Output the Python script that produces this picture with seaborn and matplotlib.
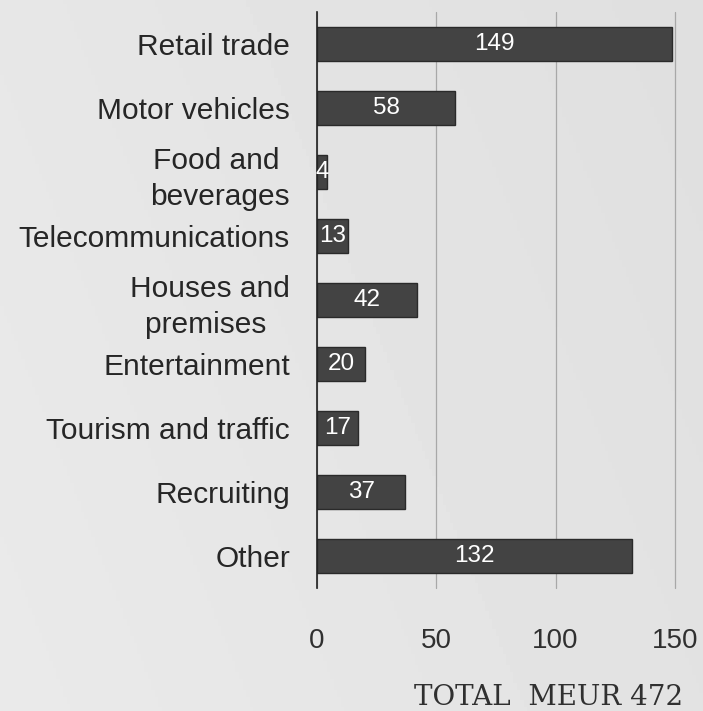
import numpy as np
import pandas as pd
import matplotlib
matplotlib.use("Agg")
import matplotlib.pyplot as plt
import seaborn as sns

categories = ["Retail trade", "Motor vehicles", "Food and \nbeverages", "Telecommunications",
              "Houses and\npremises ", "Entertainment", "Tourism and traffic", "Recruiting", "Other"]
values = [149, 58, 4, 13, 42, 20, 17, 37, 132]
x_ticks = [0, 50, 100, 150]
total_label = "TOTAL  MEUR 472"

sns.set_theme(style="white")
plt.rcParams["font.family"] = ["Liberation Sans", "DejaVu Sans"]

df = pd.DataFrame({"category": categories, "value": values})

fig = plt.figure(figsize=(7.03, 7.11), dpi=100)

# soft grey background gradient
bg = fig.add_axes([0, 0, 1, 1], zorder=-10)
gy, gx = np.mgrid[0:1:200j, 0:1:200j]
grad = 0.905 - 0.03 * gx + 0.012 * gy
bg.imshow(grad, cmap="gray", vmin=0, vmax=1, aspect="auto", extent=[0, 1, 0, 1])
bg.axis("off")

ax = fig.add_axes([0.451, 0.173, 0.509, 0.810])
ax.patch.set_alpha(0)

sns.barplot(data=df, x="value", y="category", orient="h", color="#434343",
            saturation=1, width=0.52, edgecolor="#2a2a2a", linewidth=1, ax=ax)

for c in ax.containers:
    ax.bar_label(c, labels=[str(v) for v in values], label_type="center",
                 color="white", fontsize=17.5)

ax.set_xlim(0, 150)
ax.set_ylim(8.5, -0.5)
ax.set_xticks(x_ticks)
ax.set_xticklabels([str(t) for t in x_ticks])
ax.xaxis.grid(True, color="#a8a8a8", linewidth=0.9)
for gl in ax.get_xgridlines():
    gl.set_clip_on(False)
ax.set_axisbelow(True)
ax.set_xlabel("")
ax.set_ylabel("")
for s in ["top", "right", "bottom"]:
    ax.spines[s].set_visible(False)
ax.spines["left"].set_color("#222222")
ax.spines["left"].set_linewidth(1.2)
ax.tick_params(axis="x", length=0, pad=29, labelsize=20, labelcolor="#303030")
ax.tick_params(axis="y", length=0, pad=19.5, labelsize=21.5, labelcolor="#262626")
for lab in ax.get_yticklabels():
    lab.set_multialignment("center")
    lab.set_linespacing(1.35)

fig.text(0.781, 0.008, total_label, ha="center", va="baseline",
         family="DejaVu Serif", fontsize=20, color="#303030")

fig.savefig("out.png", dpi=100)
